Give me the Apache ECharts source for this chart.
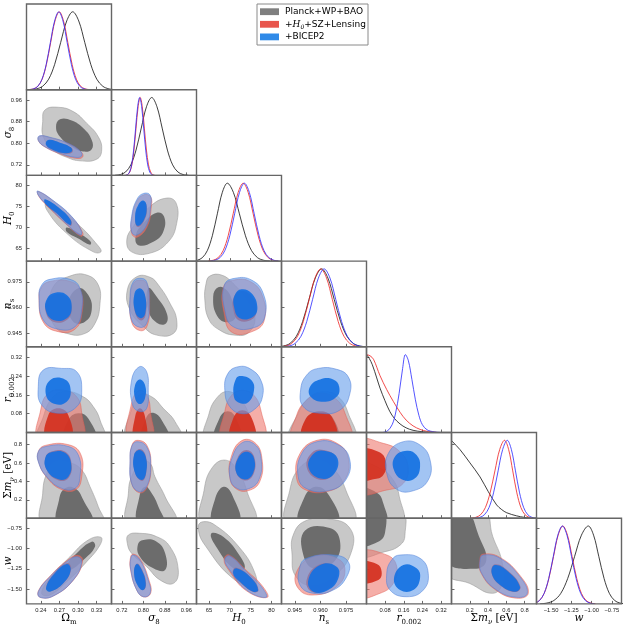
<!DOCTYPE html>
<html><head><meta charset="utf-8">
<script src="https://cdn.jsdelivr.net/npm/echarts@6/dist/echarts.min.js"></script>
<style>html,body{margin:0;padding:0;background:#fff}#c{width:625px;height:626px}</style>
</head><body><div id="c"></div>
<script>
// ---------------- axes ----------------
const axisMin = [0.217, 0.681, 62.0, 0.9372, 0.0, 0.0, -1.68];
const axisMax = [0.354, 0.998, 82.4, 0.9870, 0.365, 0.93, -0.63];
const tickValues = [[0.24,0.27,0.30,0.33],[0.72,0.80,0.88,0.96],[65,70,75,80],[0.945,0.960,0.975],[0.08,0.16,0.24,0.32],[0.2,0.4,0.6,0.8],[-1.5,-1.25,-1.0,-0.75]];
const tickDecimals = [2,2,0,3,2,1,2];
const legendNames = ['Planck+WP+BAO','+H0+SZ+Lensing','+BICEP2'];

// ---------------- 1D marginals [value, relative density] ----------------
const om_black = [[0.2236,0.002],[0.2333,0.011],[0.2430,0.044],[0.2527,0.135],[0.2624,0.325],[0.2721,0.607],[0.2818,0.882],[0.2915,1],[0.3012,0.882],[0.3109,0.607],[0.3206,0.325],[0.3303,0.135],[0.3400,0.044],[0.3497,0.011],[0.3594,0.002]];
const om_red = [[0.2215,0.002],[0.2284,0.011],[0.2353,0.044],[0.2422,0.135],[0.2491,0.325],[0.2560,0.607],[0.2629,0.882],[0.2698,1],[0.2767,0.882],[0.2836,0.607],[0.2905,0.325],[0.2974,0.135],[0.3043,0.044],[0.3112,0.011],[0.3181,0.002]];
const om_blue = [[0.2218,0.002],[0.2285,0.011],[0.2353,0.044],[0.2420,0.135],[0.2488,0.325],[0.2555,0.607],[0.2623,0.882],[0.2690,1],[0.2758,0.882],[0.2825,0.607],[0.2893,0.325],[0.2960,0.135],[0.3028,0.044],[0.3095,0.011],[0.3163,0.002]];
const s8_black = [[0.6945,0.002],[0.714,0.011],[0.7335,0.044],[0.753,0.135],[0.7725,0.325],[0.792,0.607],[0.8115,0.882],[0.831,1],[0.8505,0.882],[0.870,0.607],[0.8895,0.325],[0.909,0.135],[0.9285,0.044],[0.948,0.011],[0.9675,0.002]];
const s8_red = [[0.7338,0.002],[0.7415,0.011],[0.7493,0.044],[0.757,0.135],[0.7648,0.325],[0.7725,0.607],[0.7803,0.882],[0.788,1],[0.7958,0.882],[0.8035,0.607],[0.8113,0.325],[0.819,0.135],[0.8268,0.044],[0.8345,0.011],[0.8423,0.002]];
const s8_blue = [[0.7335,0.002],[0.741,0.011],[0.7485,0.044],[0.756,0.135],[0.7635,0.325],[0.771,0.607],[0.7785,0.882],[0.786,1],[0.7935,0.882],[0.801,0.607],[0.8085,0.325],[0.816,0.135],[0.8235,0.044],[0.831,0.011],[0.8385,0.002]];
const h0_black = [[61.0,0.002],[62.2,0.011],[63.4,0.044],[64.6,0.135],[65.8,0.325],[67.0,0.607],[68.2,0.882],[69.4,1],[70.85,0.882],[72.3,0.607],[73.75,0.325],[75.2,0.135],[76.65,0.044],[78.1,0.011],[79.55,0.002]];
const h0_red = [[64.8,0.002],[66.0,0.011],[67.2,0.044],[68.4,0.135],[69.6,0.325],[70.8,0.607],[72.0,0.882],[73.2,1],[74.4,0.882],[75.6,0.607],[76.8,0.325],[78.0,0.135],[79.2,0.044],[80.4,0.011],[81.6,0.002]];
const h0_blue = [[65.28,0.002],[66.45,0.011],[67.63,0.044],[68.8,0.135],[69.98,0.325],[71.15,0.607],[72.33,0.882],[73.5,1],[74.68,0.882],[75.85,0.607],[77.03,0.325],[78.2,0.135],[79.38,0.044],[80.55,0.011],[81.73,0.002]];
const ns_black = [[0.9348,0.002],[0.9385,0.011],[0.9422,0.044],[0.9459,0.135],[0.9496,0.325],[0.9533,0.607],[0.957,0.882],[0.9607,1],[0.9644,0.882],[0.9681,0.607],[0.9718,0.325],[0.9755,0.135],[0.9792,0.044],[0.9829,0.011],[0.9866,0.002]];
const ns_red = [[0.9364,0.002],[0.9398,0.011],[0.9432,0.044],[0.9466,0.135],[0.95,0.325],[0.9534,0.607],[0.9568,0.882],[0.9602,1],[0.9636,0.882],[0.967,0.607],[0.9704,0.325],[0.9738,0.135],[0.9772,0.044],[0.9806,0.011],[0.984,0.002]];
const ns_blue = [[0.9384,0.002],[0.9418,0.011],[0.9452,0.044],[0.9486,0.135],[0.952,0.325],[0.9554,0.607],[0.9588,0.882],[0.9622,1],[0.9656,0.882],[0.969,0.607],[0.9724,0.325],[0.9758,0.135],[0.9792,0.044],[0.9826,0.011],[0.986,0.002]];
const r_black = [[0,1.0],[0.012,0.95],[0.025,0.87],[0.044,0.70],[0.058,0.57],[0.079,0.41],[0.1,0.27],[0.12,0.18],[0.144,0.11],[0.17,0.06],[0.2,0.028],[0.24,0.01],[0.28,0.002]];
const r_red = [[0,1.0],[0.015,0.985],[0.03,0.94],[0.058,0.73],[0.087,0.55],[0.115,0.40],[0.144,0.26],[0.17,0.16],[0.2,0.085],[0.23,0.04],[0.26,0.015],[0.3,0.003]];
const r_blue = [[0.07,0],[0.09,0.02],[0.11,0.1],[0.125,0.25],[0.14,0.5],[0.155,0.82],[0.167,1.0],[0.18,0.92],[0.195,0.68],[0.21,0.42],[0.225,0.22],[0.24,0.1],[0.26,0.035],[0.29,0.008],[0.32,0]];
const mnu_black = [[0,1.0],[0.005,0.99],[0.093,0.88],[0.202,0.71],[0.312,0.53],[0.403,0.34],[0.494,0.17],[0.55,0.11],[0.604,0.07],[0.713,0.03],[0.8,0.01],[0.86,0.003]];
const mnu_red = [[0.2125,0.002],[0.265,0.011],[0.3175,0.044],[0.37,0.135],[0.4225,0.325],[0.475,0.607],[0.5275,0.882],[0.58,1],[0.625,0.882],[0.67,0.607],[0.715,0.325],[0.76,0.135],[0.805,0.044],[0.85,0.011],[0.895,0.002]];
const mnu_blue = [[0.26,0.002],[0.31,0.011],[0.36,0.044],[0.41,0.135],[0.46,0.325],[0.51,0.607],[0.56,0.882],[0.61,1],[0.655,0.882],[0.70,0.607],[0.745,0.325],[0.79,0.135],[0.835,0.044],[0.88,0.011],[0.925,0.002]];
const w_black = [[-1.635,0.002],[-1.55,0.011],[-1.465,0.044],[-1.38,0.135],[-1.295,0.325],[-1.21,0.607],[-1.125,0.882],[-1.04,1],[-0.975,0.882],[-0.91,0.607],[-0.845,0.325],[-0.78,0.135],[-0.715,0.044],[-0.65,0.011],[-0.585,0.002]];
const w_red = [[-1.7575,0.002],[-1.7,0.011],[-1.6425,0.044],[-1.585,0.135],[-1.5275,0.325],[-1.47,0.607],[-1.4125,0.882],[-1.355,1],[-1.2975,0.882],[-1.24,0.607],[-1.1825,0.325],[-1.125,0.135],[-1.0675,0.044],[-1.01,0.011],[-0.9525,0.002]];
const w_blue = [[-1.7555,0.002],[-1.699,0.011],[-1.6425,0.044],[-1.586,0.135],[-1.5295,0.325],[-1.473,0.607],[-1.4165,0.882],[-1.36,1],[-1.3035,0.882],[-1.247,0.607],[-1.1905,0.325],[-1.134,0.135],[-1.0775,0.044],[-1.021,0.011],[-0.9645,0.002]];

// ---------------- 2D contours: [gray95, gray68, red95, red68, blue95, blue68], points [x, y] ----------------
const s8_vs_om = [
 [[0.2468,0.923],[0.2683,0.933],[0.2924,0.917],[0.314,0.874],[0.3327,0.824],[0.3382,0.775],[0.3302,0.741],[0.3032,0.735],[0.2818,0.748],[0.2602,0.775],[0.2441,0.824],[0.2431,0.880]],
 [[0.271,0.889],[0.2899,0.884],[0.3086,0.855],[0.3221,0.812],[0.3221,0.778],[0.3086,0.769],[0.2899,0.787],[0.271,0.824],[0.2646,0.861]],
 [[0.2380,0.826],[0.2555,0.820],[0.2830,0.800],[0.3050,0.768],[0.3075,0.749],[0.2965,0.744],[0.2720,0.760],[0.2475,0.785],[0.2365,0.808]],
 [[0.2530,0.811],[0.2720,0.800],[0.2895,0.783],[0.2910,0.767],[0.2800,0.761],[0.2610,0.773],[0.2490,0.792]],
 [[0.2376,0.827],[0.2549,0.822],[0.2818,0.802],[0.3032,0.772],[0.3060,0.753],[0.2952,0.748],[0.2710,0.763],[0.2468,0.787],[0.2360,0.810]],
 [[0.2521,0.812],[0.2710,0.802],[0.2882,0.785],[0.2899,0.769],[0.2791,0.763],[0.2602,0.775],[0.2484,0.794]]
];
const h0_vs_om = [
 [[0.2496,76.1],[0.2979,71.0],[0.3327,65.6],[0.337,64.2],[0.3247,64.2],[0.2818,68.6],[0.2496,74.2]],
 [[0.2818,70.0],[0.3032,68.5],[0.3205,66.6],[0.3194,65.9],[0.3005,67.4],[0.2818,69.0]],
 [[0.2355,78.6],[0.2610,76.2],[0.2910,72.3],[0.3080,68.6],[0.3050,67.9],[0.2830,70.5],[0.2500,75.2],[0.2365,77.5]],
 [[0.2475,76.6],[0.2690,74.6],[0.2892,71.6],[0.2880,70.4],[0.2665,73.2],[0.2475,75.6]],
 [[0.2351,78.7],[0.2602,76.4],[0.2899,72.6],[0.3060,69.0],[0.3032,68.2],[0.2818,70.8],[0.2496,75.4],[0.2360,77.7]],
 [[0.2468,76.7],[0.2683,74.8],[0.2882,71.8],[0.2871,70.6],[0.2657,73.4],[0.2468,75.8]]
];
const h0_vs_s8 = [
 [[0.887,77.0],[0.922,75.8],[0.924,71.0],[0.893,66.6],[0.825,63.9],[0.756,64.2],[0.738,67.0],[0.762,70.2],[0.825,75.0]],
 [[0.8496,73.5],[0.877,72.6],[0.874,69.0],[0.837,66.6],[0.781,65.8],[0.772,68.2],[0.8,71.0]],
 [[0.802,77.8],[0.827,77.3],[0.829,74.6],[0.814,70.2],[0.777,67.7],[0.757,68.5],[0.757,72.2],[0.776,76.3]],
 [[0.801,76.2],[0.813,74.8],[0.803,71.6],[0.778,70.1],[0.770,72.3],[0.782,75.2]],
 [[0.800,78.1],[0.825,77.7],[0.827,75.0],[0.812,70.6],[0.775,68.2],[0.756,69.0],[0.756,72.6],[0.775,76.6]],
 [[0.800,76.4],[0.812,75.0],[0.802,71.8],[0.777,70.4],[0.769,72.6],[0.781,75.4]]
];
const ns_vs_om = [
 [[0.2871,0.9783],[0.314,0.9789],[0.3327,0.9731],[0.3355,0.9625],[0.3274,0.9508],[0.3086,0.9446],[0.2818,0.945],[0.263,0.9489],[0.2549,0.9586],[0.2602,0.9721]],
 [[0.3005,0.9712],[0.3166,0.9673],[0.3221,0.9586],[0.3113,0.9518],[0.2924,0.9518],[0.2844,0.9625]],
 [[0.2549,0.9752],[0.2871,0.9752],[0.3040,0.9700],[0.3065,0.9570],[0.2950,0.9474],[0.2683,0.9460],[0.2441,0.9515],[0.2372,0.9650],[0.2415,0.9720]],
 [[0.2630,0.9676],[0.2818,0.9663],[0.2899,0.9595],[0.2818,0.9528],[0.2602,0.9518],[0.2479,0.9576],[0.2505,0.9644]],
 [[0.2549,0.9764],[0.2871,0.9764],[0.3032,0.9712],[0.3060,0.9586],[0.2952,0.9489],[0.2683,0.9474],[0.2441,0.9528],[0.2372,0.9663],[0.2415,0.9731]],
 [[0.2630,0.9686],[0.2818,0.9673],[0.2899,0.9605],[0.2818,0.9538],[0.2602,0.9528],[0.2479,0.9586],[0.2505,0.9654]]
];
const ns_vs_s8 = [
 [[0.775,0.9779],[0.825,0.9776],[0.856,0.9731],[0.899,0.9625],[0.924,0.9528],[0.912,0.945],[0.8496,0.944],[0.8,0.9489],[0.75,0.9586],[0.74,0.9702]],
 [[0.818,0.9712],[0.8496,0.9663],[0.887,0.9567],[0.884,0.9508],[0.8496,0.9512],[0.818,0.9586]],
 [[0.788,0.9760],[0.813,0.9738],[0.823,0.9610],[0.813,0.9490],[0.788,0.9466],[0.757,0.9512],[0.751,0.9650],[0.763,0.9740]],
 [[0.788,0.9702],[0.807,0.9663],[0.808,0.9555],[0.791,0.9525],[0.770,0.9565],[0.768,0.9672]],
 [[0.787,0.9770],[0.812,0.9750],[0.822,0.9625],[0.812,0.9508],[0.787,0.9485],[0.756,0.9528],[0.750,0.9663],[0.762,0.9750]],
 [[0.787,0.9712],[0.806,0.9673],[0.807,0.9567],[0.790,0.9538],[0.769,0.9576],[0.767,0.9683]]
];
const ns_vs_h0 = [
 [[65.2,0.9783],[68.0,0.9789],[70.8,0.974],[73.5,0.966],[76.0,0.955],[74.5,0.9455],[71.0,0.9440],[67.5,0.947],[65.0,0.953],[64.0,0.9644],[64.3,0.974]],
 [[67.2,0.9718],[69.2,0.9702],[70.8,0.9625],[71.5,0.955],[69.5,0.9515],[67.0,0.955],[66.0,0.9663]],
 [[71.0,0.9760],[75.0,0.9750],[77.8,0.9670],[78.3,0.9530],[75.8,0.9465],[70.6,0.9455],[68.6,0.9570],[68.5,0.9720]],
 [[72.6,0.9696],[75.0,0.9673],[76.4,0.9593],[75.4,0.9533],[72.2,0.9525],[70.8,0.9593],[71.0,0.9663]],
 [[71.2,0.9770],[75.2,0.9760],[78.0,0.9683],[78.4,0.9547],[76.0,0.9485],[70.8,0.9489],[68.8,0.9586],[68.7,0.9731]],
 [[72.8,0.9706],[75.2,0.9683],[76.6,0.9605],[75.6,0.9547],[72.4,0.9538],[71.0,0.9605],[71.2,0.9673]]
];
const r_vs_om = [
 [[0.2376,-0.03],[0.2441,0.067],[0.2602,0.152],[0.2818,0.174],[0.3086,0.152],[0.3247,0.110],[0.3355,0.053],[0.3408,-0.03]],
 [[0.279,-0.03],[0.2844,0.053],[0.3005,0.082],[0.3166,0.060],[0.3274,-0.03]],
 [[0.2376,-0.03],[0.2399,0.096],[0.2521,0.167],[0.2763,0.181],[0.2979,0.152],[0.306,0.082],[0.306,-0.03]],
 [[0.2496,-0.03],[0.2521,0.074],[0.2683,0.103],[0.2844,0.074],[0.2882,-0.03]],
 [[0.2441,0.266],[0.2737,0.273],[0.2979,0.259],[0.306,0.181],[0.2979,0.110],[0.2683,0.082],[0.2415,0.117],[0.236,0.195]],
 [[0.2549,0.223],[0.279,0.226],[0.2882,0.181],[0.2818,0.131],[0.263,0.121],[0.2484,0.160]]
];
const r_vs_s8 = [
 [[0.741,-0.03],[0.753,0.089],[0.787,0.160],[0.831,0.152],[0.874,0.103],[0.918,0.046],[0.939,-0.03]],
 [[0.797,-0.03],[0.812,0.067],[0.837,0.084],[0.868,0.053],[0.893,-0.03]],
 [[0.744,-0.03],[0.753,0.110],[0.781,0.178],[0.812,0.160],[0.827,0.082],[0.831,-0.03]],
 [[0.765,-0.03],[0.769,0.067],[0.787,0.103],[0.806,0.067],[0.8086,-0.03]],
 [[0.785,0.280],[0.812,0.259],[0.818,0.181],[0.812,0.103],[0.787,0.089],[0.760,0.117],[0.756,0.223]],
 [[0.787,0.226],[0.806,0.202],[0.806,0.146],[0.787,0.121],[0.769,0.146],[0.769,0.202]]
];
const r_vs_h0 = [
 [[64.3,-0.03],[65.0,0.08],[67.0,0.15],[69.5,0.175],[72.0,0.15],[74.5,0.08],[75.5,-0.03]],
 [[66.5,-0.03],[67.5,0.06],[69.5,0.09],[71.5,0.06],[72.5,-0.03]],
 [[68.3,-0.03],[68.8,0.09],[70.5,0.16],[73.0,0.18],[75.7,0.16],[77.5,0.09],[78.0,-0.03]],
 [[70.3,-0.03],[70.8,0.06],[73.0,0.095],[75.3,0.06],[75.8,-0.03]],
 [[69.5,0.25],[72.0,0.28],[75.0,0.27],[77.5,0.22],[77.8,0.15],[76.0,0.10],[73.0,0.08],[70.0,0.11],[68.8,0.18]],
 [[71.5,0.23],[73.3,0.24],[75.3,0.22],[75.8,0.18],[74.5,0.13],[72.5,0.125],[71.0,0.15]]
];
const r_vs_ns = [
 [[0.9426,-0.03],[0.947,0.082],[0.9539,0.152],[0.9627,0.174],[0.9705,0.152],[0.9763,0.082],[0.9793,-0.03]],
 [[0.95,-0.03],[0.952,0.060],[0.9598,0.089],[0.9675,0.060],[0.9695,-0.03]],
 [[0.9441,-0.03],[0.9461,0.074],[0.952,0.138],[0.9598,0.167],[0.9685,0.146],[0.9744,0.082],[0.9769,-0.03]],
 [[0.95,-0.03],[0.951,0.053],[0.9588,0.089],[0.9666,0.067],[0.9685,-0.03]],
 [[0.9588,0.273],[0.9695,0.269],[0.9763,0.237],[0.9773,0.167],[0.9715,0.096],[0.9598,0.082],[0.95,0.110],[0.9484,0.181],[0.952,0.245]],
 [[0.9598,0.226],[0.9675,0.226],[0.971,0.195],[0.9695,0.152],[0.9617,0.131],[0.9543,0.152],[0.9539,0.195]]
];
const mnu_vs_om = [
 [[0.2441,-0.05],[0.2431,0.270],[0.2496,0.487],[0.263,0.613],[0.2871,0.602],[0.306,0.523],[0.3194,0.342],[0.3327,0.125],[0.3398,-0.05]],
 [[0.2683,-0.05],[0.2694,0.197],[0.279,0.324],[0.2952,0.324],[0.3086,0.197],[0.3221,-0.05]],
 [[0.2475,0.79],[0.2830,0.80],[0.3040,0.70],[0.3060,0.45],[0.2965,0.31],[0.2740,0.31],[0.2500,0.44],[0.2365,0.61],[0.2365,0.73]],
 [[0.2605,0.73],[0.2795,0.72],[0.2895,0.60],[0.2850,0.44],[0.2688,0.41],[0.2500,0.52],[0.2482,0.67]],
 [[0.2468,0.776],[0.2818,0.783],[0.3005,0.685],[0.3032,0.450],[0.2952,0.324],[0.2737,0.324],[0.2496,0.450],[0.2360,0.613],[0.2360,0.721]],
 [[0.2602,0.721],[0.2790,0.710],[0.2888,0.595],[0.2844,0.450],[0.2683,0.422],[0.2496,0.523],[0.2479,0.667]]
];
const mnu_vs_s8 = [
 [[0.744,-0.05],[0.744,0.270],[0.756,0.450],[0.794,0.613],[0.825,0.595],[0.843,0.450],[0.881,0.233],[0.918,-0.05]],
 [[0.781,-0.05],[0.785,0.233],[0.806,0.342],[0.831,0.270],[0.856,0.125],[0.874,-0.05]],
 [[0.776,0.845],[0.813,0.79],[0.828,0.56],[0.813,0.33],[0.786,0.275],[0.757,0.37],[0.751,0.63],[0.757,0.79]],
 [[0.788,0.75],[0.809,0.675],[0.810,0.485],[0.795,0.405],[0.770,0.485],[0.766,0.69]],
 [[0.775,0.830],[0.812,0.776],[0.827,0.559],[0.812,0.342],[0.785,0.287],[0.756,0.378],[0.750,0.631],[0.756,0.776]],
 [[0.787,0.740],[0.8086,0.667],[0.8097,0.487],[0.794,0.414],[0.769,0.487],[0.765,0.685]]
];
const mnu_vs_h0 = [
 [[63.5,-0.05],[63.8,0.3],[65.8,0.55],[69.0,0.63],[71.8,0.52],[74.2,0.28],[75.8,-0.05]],
 [[66.0,-0.05],[66.4,0.2],[68.5,0.34],[70.6,0.25],[72.2,-0.05]],
 [[70.0,0.44],[70.3,0.66],[72.8,0.84],[76.0,0.82],[77.7,0.65],[77.2,0.40],[74.5,0.30],[71.5,0.32]],
 [[71.5,0.5],[71.9,0.66],[74.0,0.74],[75.9,0.66],[75.6,0.47],[73.5,0.41]],
 [[70.0,0.45],[70.5,0.65],[73.0,0.82],[76.0,0.80],[77.5,0.65],[77.0,0.42],[74.5,0.32],[71.5,0.33]],
 [[71.5,0.5],[72.0,0.65],[74.0,0.72],[75.8,0.65],[75.5,0.48],[73.5,0.42]]
];
const mnu_vs_ns = [
 [[0.941,-0.05],[0.942,0.3],[0.948,0.55],[0.958,0.63],[0.967,0.55],[0.975,0.3],[0.979,-0.05]],
 [[0.948,-0.05],[0.950,0.2],[0.957,0.34],[0.965,0.25],[0.970,-0.05]],
 [[0.946,0.44],[0.948,0.7],[0.958,0.845],[0.970,0.81],[0.9765,0.64],[0.974,0.41],[0.964,0.29],[0.951,0.31]],
 [[0.952,0.55],[0.955,0.71],[0.962,0.74],[0.969,0.66],[0.967,0.47],[0.959,0.42]],
 [[0.947,0.45],[0.949,0.7],[0.958,0.83],[0.970,0.8],[0.977,0.65],[0.975,0.42],[0.965,0.3],[0.952,0.32]],
 [[0.953,0.55],[0.956,0.7],[0.963,0.73],[0.970,0.65],[0.968,0.48],[0.960,0.43]]
];
const mnu_vs_r = [
 [[-0.03,0.59],[0.058,0.541],[0.115,0.414],[0.141,0.233],[0.151,-0.05],[-0.03,-0.05]],
 [[-0.03,0.31],[0.044,0.277],[0.072,0.162],[0.082,-0.05],[-0.03,-0.05]],
 [[-0.03,0.835],[0.072,0.812],[0.144,0.721],[0.179,0.559],[0.158,0.378],[0.087,0.306],[-0.03,0.287]],
 [[-0.03,0.735],[0.051,0.721],[0.084,0.613],[0.072,0.469],[0.029,0.422],[-0.03,0.42]],
 [[0.158,0.830],[0.230,0.794],[0.273,0.631],[0.265,0.414],[0.201,0.298],[0.130,0.313],[0.087,0.487],[0.094,0.704]],
 [[0.173,0.732],[0.215,0.685],[0.230,0.559],[0.208,0.433],[0.158,0.414],[0.118,0.523],[0.122,0.667]]
];
const w_vs_om = [
 [[0.337,-0.864],[0.3355,-0.958],[0.314,-1.163],[0.2818,-1.408],[0.2549,-1.571],[0.2415,-1.550],[0.2549,-1.366],[0.2871,-1.102],[0.3166,-0.897]],
 [[0.3221,-0.918],[0.3274,-0.979],[0.3086,-1.142],[0.2871,-1.265],[0.2818,-1.216],[0.2979,-1.060]],
 [[0.2995,-1.085],[0.3075,-1.15],[0.2935,-1.38],[0.2610,-1.58],[0.2390,-1.60],[0.2360,-1.525],[0.2555,-1.335],[0.2830,-1.145]],
 [[0.2825,-1.18],[0.2890,-1.255],[0.2770,-1.42],[0.2555,-1.525],[0.2488,-1.48],[0.2608,-1.315]],
 [[0.2979,-1.102],[0.3060,-1.163],[0.2924,-1.387],[0.2602,-1.583],[0.2388,-1.599],[0.2360,-1.530],[0.2549,-1.347],[0.2818,-1.163]],
 [[0.2818,-1.191],[0.2882,-1.265],[0.2763,-1.428],[0.2549,-1.530],[0.2484,-1.489],[0.2602,-1.326]]
];
const w_vs_s8 = [
 [[0.744,-0.836],[0.787,-0.815],[0.8496,-0.856],[0.899,-0.979],[0.930,-1.265],[0.912,-1.428],[0.862,-1.387],[0.812,-1.224],[0.756,-1.060],[0.74,-0.937]],
 [[0.8,-0.897],[0.8496,-0.918],[0.881,-1.060],[0.881,-1.265],[0.837,-1.244],[0.787,-1.102],[0.779,-0.958]],
 [[0.762,-1.07],[0.788,-1.13],[0.820,-1.38],[0.827,-1.55],[0.801,-1.595],[0.775,-1.51],[0.752,-1.26],[0.752,-1.11]],
 [[0.776,-1.185],[0.795,-1.26],[0.810,-1.425],[0.801,-1.51],[0.782,-1.465],[0.766,-1.30]],
 [[0.762,-1.081],[0.787,-1.142],[0.818,-1.387],[0.825,-1.550],[0.800,-1.592],[0.775,-1.510],[0.753,-1.265],[0.753,-1.121]],
 [[0.775,-1.191],[0.794,-1.265],[0.8086,-1.428],[0.800,-1.510],[0.781,-1.469],[0.765,-1.305]]
];
const w_vs_h0 = [
 [[62.4,-0.75],[63.3,-0.676],[66.4,-0.713],[72.4,-0.995],[76.0,-1.30],[76.0,-1.449],[71.2,-1.387],[64.0,-0.958]],
 [[65.5,-0.82],[68.5,-0.86],[72.5,-1.1],[73.5,-1.25],[71.0,-1.25],[67.0,-1.0]],
 [[69.8,-1.08],[74.0,-1.27],[77.8,-1.46],[79.0,-1.60],[74.0,-1.52],[69.8,-1.27],[68.6,-1.135]],
 [[71.5,-1.235],[75.2,-1.36],[76.9,-1.51],[75.6,-1.535],[72.3,-1.41],[70.7,-1.3]],
 [[70.0,-1.093],[74.0,-1.285],[77.6,-1.469],[78.7,-1.599],[74.0,-1.51],[70.0,-1.265],[68.8,-1.142]],
 [[71.6,-1.244],[75.2,-1.366],[76.8,-1.510],[75.6,-1.530],[72.4,-1.408],[70.8,-1.305]]
];
const w_vs_ns = [
 [[0.9440,-0.84],[0.9510,-0.665],[0.9655,-0.64],[0.9772,-0.75],[0.9785,-1.02],[0.9685,-1.33],[0.9540,-1.45],[0.9452,-1.33],[0.9434,-1.08]],
 [[0.951,-0.78],[0.9655,-0.75],[0.9714,-0.90],[0.9685,-1.15],[0.9567,-1.25],[0.9500,-1.08]],
 [[0.9461,-1.285],[0.9558,-1.102],[0.9695,-1.121],[0.9744,-1.265],[0.9695,-1.469],[0.9558,-1.571],[0.9470,-1.489]],
 [[0.9588,-1.203],[0.9685,-1.224],[0.9695,-1.366],[0.9636,-1.51],[0.9548,-1.530],[0.9519,-1.387]],
 [[0.9520,-1.121],[0.9675,-1.081],[0.9763,-1.163],[0.9754,-1.347],[0.9675,-1.51],[0.9558,-1.55],[0.948,-1.448],[0.948,-1.224]],
 [[0.9598,-1.203],[0.9695,-1.224],[0.9705,-1.366],[0.9646,-1.51],[0.9558,-1.530],[0.9529,-1.387]]
];
const w_vs_r = [
 [[-0.03,-0.55],[0.15,-0.55],[0.165,-0.84],[0.144,-0.96],[0.079,-1.04],[-0.03,-1.08]],
 [[-0.03,-0.55],[0.07,-0.55],[0.08,-0.8],[0.05,-0.92],[-0.03,-0.95]],
 [[-0.03,-1.06],[0.087,-1.081],[0.130,-1.224],[0.115,-1.428],[0.058,-1.55],[-0.03,-1.58]],
 [[-0.03,-1.175],[0.044,-1.191],[0.065,-1.285],[0.051,-1.387],[-0.03,-1.408]],
 [[0.144,-1.081],[0.230,-1.121],[0.265,-1.305],[0.244,-1.51],[0.173,-1.592],[0.101,-1.51],[0.087,-1.305],[0.108,-1.142]],
 [[0.158,-1.203],[0.215,-1.244],[0.230,-1.366],[0.201,-1.51],[0.144,-1.51],[0.118,-1.366]]
];
const w_vs_mnu = [
 [[-0.05,-0.5],[0.35,-0.5],[0.45,-0.85],[0.55,-1.15],[0.56,-1.42],[0.45,-1.55],[0.2,-1.43],[-0.05,-1.3]],
 [[-0.05,-0.5],[0.15,-0.5],[0.3,-0.85],[0.38,-1.15],[0.25,-1.25],[-0.05,-1.15]],
 [[0.345,-1.07],[0.53,-1.11],[0.755,-1.34],[0.84,-1.55],[0.715,-1.61],[0.49,-1.515],[0.325,-1.305],[0.31,-1.135]],
 [[0.476,-1.195],[0.625,-1.28],[0.755,-1.47],[0.70,-1.535],[0.53,-1.45],[0.438,-1.30]],
 [[0.348,-1.081],[0.531,-1.121],[0.749,-1.347],[0.829,-1.55],[0.713,-1.599],[0.494,-1.51],[0.330,-1.305],[0.312,-1.142]],
 [[0.476,-1.203],[0.621,-1.285],[0.749,-1.469],[0.695,-1.530],[0.531,-1.448],[0.440,-1.305]]
];

// ---------------- assembly ----------------
const diagCurves = [[om_black,om_red,om_blue],[s8_black,s8_red,s8_blue],[h0_black,h0_red,h0_blue],[ns_black,ns_red,ns_blue],[r_black,r_red,r_blue],[mnu_black,mnu_red,mnu_blue],[w_black,w_red,w_blue]];
const panels2d = {
 '1,0': s8_vs_om,
 '2,0': h0_vs_om, '2,1': h0_vs_s8,
 '3,0': ns_vs_om, '3,1': ns_vs_s8, '3,2': ns_vs_h0,
 '4,0': r_vs_om, '4,1': r_vs_s8, '4,2': r_vs_h0, '4,3': r_vs_ns,
 '5,0': mnu_vs_om, '5,1': mnu_vs_s8, '5,2': mnu_vs_h0, '5,3': mnu_vs_ns, '5,4': mnu_vs_r,
 '6,0': w_vs_om, '6,1': w_vs_s8, '6,2': w_vs_h0, '6,3': w_vs_ns, '6,4': w_vs_r, '6,5': w_vs_mnu
};
const fills = ['#c8c8c8','#6c6c6c','rgba(238,120,110,0.6)','rgba(212,48,32,0.92)','rgba(105,160,235,0.62)','rgba(18,112,226,0.9)'];
const edges = ['rgba(150,150,150,0.9)', null, 'rgba(225,95,85,0.85)', null, 'rgba(75,125,215,0.85)', null];
const lineColors = ['#111111','#ee2222','#2a2aff'];

const L0 = 26.5, T0 = 4, PW = 85, PH = 85.7, N = 7;
const grids = [], xAxes = [], yAxes = [], series = [], graphics = [];

function fmt(p, v) {
  return v.toFixed(tickDecimals[p]).replace('-', '\u2212');
}
function makeAxis(p, g, showTicks, showLabels, isX) {
  return {
    gridIndex: g, type: 'value', min: axisMin[p], max: axisMax[p],
    axisLine: {show: false}, splitLine: {show: false},
    axisTick: {show: showTicks, inside: true, length: 3, customValues: tickValues[p], lineStyle: {color: '#444', width: 0.8}},
    axisLabel: {show: showLabels, customValues: tickValues[p], formatter: v => fmt(p, v),
      fontSize: 5.8, fontFamily: 'Liberation Sans', color: '#222', margin: isX ? 3 : 4.5}
  };
}

for (let i = 0; i < N; i++) {
  for (let j = 0; j <= i; j++) {
    const g = grids.length;
    const left = L0 + PW * j, top = T0 + PH * i;
    grids.push({left: left, top: top, width: PW, height: PH, show: false});
    graphics.push({type: 'rect', shape: {x: left, y: top, width: PW, height: PH},
      style: {fill: 'none', stroke: '#666666', lineWidth: 1.4}, z: 100, silent: true});
    const xi = xAxes.length;
    xAxes.push(makeAxis(j, g, true, i === N - 1, true));
    if (i === j) {
      yAxes.push(makeAxis(i, g, i > 0, false, false));
      const yiB = yAxes.length;
      yAxes.push({gridIndex: g, type: 'value', min: 0, max: 1.1, show: false});
      diagCurves[i].forEach((c, k) => {
        series.push({type: 'line', xAxisIndex: xi, yAxisIndex: yiB, data: c, smooth: 0.35,
          showSymbol: false, silent: true, animation: false, clip: true,
          lineStyle: {color: lineColors[k], width: 0.9, opacity: 0.9}});
      });
    } else {
      const yi = yAxes.length;
      yAxes.push(makeAxis(i, g, true, j === 0, false));
      const polys = panels2d[i + ',' + j];
      series.push({
        type: 'custom', coordinateSystem: 'cartesian2d', xAxisIndex: xi, yAxisIndex: yi,
        silent: true, animation: false, clip: true,
        data: polys.map(p => p[0]),
        renderItem: (params, api) => {
          const k = params.dataIndex;
          const pts = polys[k].map(p => api.coord(p));
          const cs = params.coordSys;
          return {
            type: 'polygon', shape: {points: pts, smooth: 0.45},
            style: {fill: fills[k], stroke: edges[k] || 'none', lineWidth: edges[k] ? 0.6 : 0},
            clipPath: {type: 'rect', shape: {x: cs.x, y: cs.y, width: cs.width, height: cs.height}}
          };
        }
      });
    }
  }
}

// axis titles
const rich = {
  v: {fontFamily: 'DejaVu Serif', fontStyle: 'italic', fontSize: 10.5, lineHeight: 15, verticalAlign: 'middle', color: '#111'},
  u: {fontFamily: 'DejaVu Serif', fontSize: 10.5, lineHeight: 15, verticalAlign: 'middle', color: '#111'},
  s: {fontFamily: 'DejaVu Serif', fontStyle: 'italic', fontSize: 7, lineHeight: 15, verticalAlign: 'bottom', color: '#111'},
  su: {fontFamily: 'DejaVu Serif', fontSize: 7, lineHeight: 15, verticalAlign: 'bottom', color: '#111'}
};
const titles = ['{u|Ω}{su|m}', '{v|σ}{su|8}', '{v|H}{su|0}', '{v|n}{su|s}', '{v|r}{su|0.002}', '{u|Σ}{v|m}{s|ν}{u| [eV]}', '{v|w}'];
for (let p = 0; p < N; p++) {
  graphics.push({type: 'text', x: L0 + PW * (p + 0.5), y: 618, silent: true,
    style: {text: titles[p], rich: rich, align: 'center', verticalAlign: 'middle'}});
  if (p > 0) {
    graphics.push({type: 'text', x: 8, y: T0 + PH * (p + 0.5), rotation: Math.PI / 2, silent: true,
      style: {text: titles[p], rich: rich, align: 'center', verticalAlign: 'middle'}});
  }
}

// legend
const legFills = ['#7f7f7f', '#e8554c', '#2f8ae8'];
const legTexts = ['{a|Planck+WP+BAO}', '{a|+}{h|H}{hs|0}{a|+SZ+Lensing}', '{a|+BICEP2}'];
const legRich = {
  a: {fontFamily: 'DejaVu Sans', fontSize: 9, lineHeight: 12, verticalAlign: 'middle', color: '#111'},
  h: {fontFamily: 'DejaVu Serif', fontStyle: 'italic', fontSize: 9, lineHeight: 12, verticalAlign: 'middle', color: '#111'},
  hs: {fontFamily: 'DejaVu Serif', fontStyle: 'italic', fontSize: 6, lineHeight: 12, verticalAlign: 'bottom', color: '#111'}
};
graphics.push({type: 'rect', shape: {x: 257, y: 4, width: 111, height: 41}, style: {fill: '#fff', stroke: '#8a8a8a', lineWidth: 1}, z: 110, silent: true});
for (let k = 0; k < 3; k++) {
  const cy = 11.7 + 12.6 * k;
  graphics.push({type: 'rect', shape: {x: 260, y: cy - 3.4, width: 19, height: 6.8}, style: {fill: legFills[k]}, z: 111, silent: true});
  graphics.push({type: 'text', x: 285, y: cy, z: 111, silent: true,
    style: {text: legTexts[k], rich: legRich, align: 'left', verticalAlign: 'middle'}});
}

const chart = echarts.init(document.getElementById('c'), null, {renderer: 'canvas'});
chart.setOption({
  animation: false,
  grid: grids, xAxis: xAxes, yAxis: yAxes, series: series,
  graphic: {elements: graphics}
});
</script>
</body></html>
